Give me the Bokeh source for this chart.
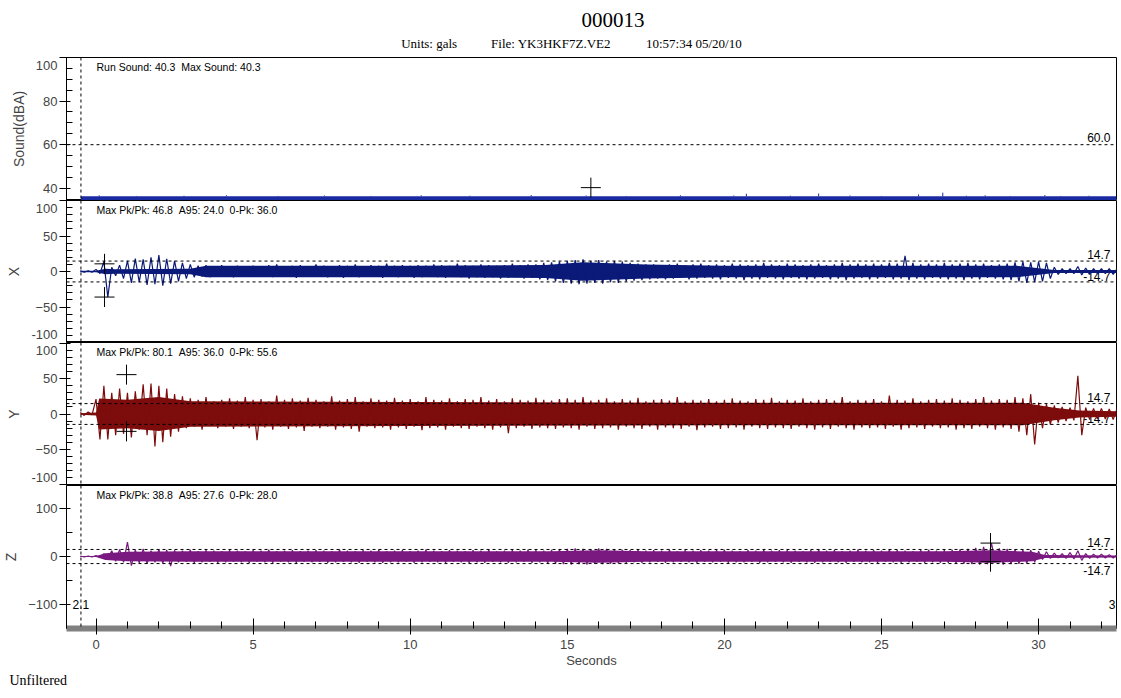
import numpy as np
from bokeh.plotting import figure
from bokeh.layouts import column
from bokeh.models import Span, FixedTicker, Range1d, SingleIntervalTicker, Title
from bokeh.core.properties import value
from bokeh.embed import file_html
from bokeh.resources import INLINE

# ---------------- data ----------------
title_text = "000013"
units_text = "Units: gals"
file_text = "File: YK3HKF7Z.VE2"
time_text = "10:57:34 05/20/10"
footer_text = "Unfiltered"

NB = " \u00a0"
sound_info = "Run Sound: 40.3" + NB + "Max Sound: 40.3"
x_info = "Max Pk/Pk: 46.8" + NB + "A95: 24.0" + NB + "0-Pk: 36.0"
y_info = "Max Pk/Pk: 80.1" + NB + "A95: 36.0" + NB + "0-Pk: 55.6"
z_info = "Max Pk/Pk: 38.8" + NB + "A95: 27.6" + NB + "0-Pk: 28.0"

t_view = (-0.94, 32.48)          # seconds shown
trigger_t = -0.48                # dashed trigger line
sound_limit = 60.0
accel_limit = 14.7

# envelope samples, every 0.25 s starting at -0.5 s (rows of 10 = 2.5 s)
t0, dt = -0.5, 0.25

x_hi = [1, 1, 3, 14, 6, 9, 15, 18, 17, 20,
        23, 18, 15, 12, 10, 8, 9, 7, 9, 7,
        8, 7, 8, 7, 9, 10, 7, 8, 9, 7,
        10, 8, 7, 9, 8, 10, 7, 9, 8, 11,
        8, 9, 8, 9, 8, 10, 9, 8, 11, 9,
        8, 10, 9, 8, 9, 11, 9, 10, 10, 12,
        13, 14, 15, 16, 17, 15, 16, 14, 15, 14,
        12, 11, 10, 10, 9, 10, 11, 9, 10, 11,
        9, 10, 9, 11, 10, 9, 10, 12, 10, 9,
        11, 10, 9, 10, 11, 9, 10, 12, 10, 11,
        10, 11, 10, 12, 11, 22, 12, 10, 11, 10,
        12, 10, 11, 12, 10, 11, 9, 10, 11, 13,
        14, 13, 14, 12, 6, 4, 4, 7, 5, 4,
        4, 4, 4]
x_lo = [-1, -1, -3, -36, -6, -10, -16, -15, -19, -18,
        -20, -17, -14, -10, -8, -7, -8, -6, -7, -8,
        -6, -7, -7, -6, -8, -7, -6, -9, -7, -6,
        -7, -8, -6, -9, -7, -8, -7, -6, -9, -7,
        -8, -7, -9, -8, -7, -8, -9, -7, -8, -10,
        -8, -9, -8, -10, -9, -8, -10, -9, -11, -12,
        -14, -16, -17, -18, -17, -16, -17, -15, -16, -14,
        -13, -12, -11, -10, -11, -10, -9, -11, -10, -9,
        -10, -11, -9, -10, -12, -10, -11, -9, -10, -11,
        -9, -10, -11, -10, -9, -11, -10, -12, -10, -9,
        -11, -10, -9, -11, -10, -12, -10, -11, -9, -10,
        -11, -10, -12, -10, -11, -9, -10, -11, -12, -14,
        -16, -15, -14, -10, -4, -3, -3, -5, -4, -3,
        -3, -4, -3]

y_hi = [2, 3, 21, 40, 30, 36, 30, 32, 42, 43,
        40, 36, 28, 25, 22, 20, 24, 18, 20, 22,
        19, 24, 20, 21, 18, 26, 20, 22, 19, 23,
        20, 18, 25, 19, 21, 24, 18, 22, 20, 19,
        23, 19, 21, 18, 24, 20, 19, 22, 18, 21,
        20, 24, 19, 21, 18, 22, 20, 19, 23, 20,
        19, 21, 22, 20, 24, 19, 20, 22, 18, 21,
        19, 23, 18, 20, 21, 19, 24, 18, 20, 19,
        21, 18, 20, 22, 19, 18, 21, 20, 23, 18,
        20, 19, 22, 18, 20, 21, 19, 24, 18, 20,
        19, 21, 18, 26, 20, 19, 22, 18, 20, 21,
        19, 22, 20, 18, 21, 24, 19, 21, 20, 24,
        22, 28, 16, 14, 12, 10, 9, 54, 9, 8,
        8, 7, 8]
y_lo = [-2, -1, -36, -36, -30, -28, -33, -22, -30, -46,
        -40, -32, -25, -20, -18, -22, -17, -20, -18, -21,
        -18, -20, -37, -19, -22, -18, -21, -19, -24, -18,
        -20, -18, -22, -19, -21, -25, -18, -20, -19, -22,
        -19, -21, -18, -23, -20, -19, -22, -18, -20, -21,
        -18, -20, -22, -19, -27, -20, -18, -21, -19, -20,
        -21, -19, -20, -22, -18, -21, -20, -19, -22, -18,
        -20, -21, -18, -22, -19, -20, -21, -18, -23, -19,
        -18, -21, -20, -19, -22, -18, -20, -21, -19, -20,
        -21, -18, -20, -22, -19, -21, -18, -20, -22, -19,
        -20, -19, -21, -18, -22, -20, -19, -21, -18, -20,
        -19, -22, -20, -21, -18, -20, -22, -19, -21, -25,
        -30, -43, -20, -15, -12, -10, -9, -30, -8, -7,
        -7, -8, -7]

z_hi = [1, 1, 2, 6, 12, 15, 30, 14, 16, 12,
        15, 14, 13, 12, 14, 11, 13, 12, 11, 13,
        12, 11, 13, 12, 14, 11, 12, 13, 11, 12,
        13, 12, 11, 14, 12, 11, 13, 12, 14, 11,
        12, 13, 11, 12, 14, 12, 11, 13, 12, 11,
        13, 12, 14, 11, 12, 13, 12, 14, 13, 12,
        14, 15, 16, 17, 16, 15, 17, 16, 15, 14,
        13, 14, 12, 13, 12, 14, 11, 13, 12, 13,
        12, 13, 14, 12, 11, 13, 12, 14, 12, 13,
        13, 12, 11, 13, 14, 12, 13, 11, 12, 14,
        12, 13, 12, 14, 13, 12, 11, 13, 14, 12,
        13, 14, 15, 16, 18, 20, 28, 17, 16, 15,
        14, 13, 11, 10, 7, 6, 8, 12, 6, 5,
        5, 4, 4]
z_lo = [-1, -1, -2, -4, -10, -12, -19, -13, -15, -12,
        -14, -20, -12, -11, -13, -12, -11, -13, -12, -11,
        -12, -13, -11, -12, -13, -11, -12, -13, -11, -12,
        -11, -13, -12, -11, -12, -13, -11, -12, -13, -12,
        -12, -11, -13, -12, -11, -12, -13, -11, -12, -13,
        -12, -13, -11, -12, -13, -12, -11, -13, -12, -14,
        -15, -16, -17, -16, -17, -15, -16, -15, -14, -13,
        -12, -13, -12, -11, -13, -12, -11, -12, -13, -11,
        -12, -11, -13, -12, -12, -11, -13, -12, -11, -12,
        -13, -11, -12, -13, -12, -11, -12, -13, -11, -12,
        -12, -13, -11, -12, -13, -12, -11, -13, -12, -13,
        -13, -14, -15, -16, -17, -16, -11, -17, -16, -15,
        -14, -12, -6, -4, -3, -4, -5, -8, -4, -3,
        -3, -3, -3]

# half-width of the solid central band: (time s, value) outline points
x_core_t = [-0.5, 0.0, 0.3, 0.6, 3.0, 3.5, 10.0, 14.3, 15.5, 17.5, 20.0, 25.0, 29.3, 30.5, 32.5]
x_core = [1, 1, 4, 3, 4, 8, 8, 9, 13, 10, 8, 8, 8, 2, 2]
y_core_t = [-0.5, 0.0, 0.1, 1.0, 2.0, 3.0, 10.0, 20.0, 27.0, 29.5, 30.5, 31.3, 32.5]
y_core = [1, 2, 22, 20, 24, 18, 17, 16, 16, 16, 9, 5, 4]
z_core_t = [-0.5, 0.0, 0.3, 1.0, 3.0, 14.5, 16.0, 17.5, 27.0, 28.5, 29.8, 30.2, 32.5]
z_core = [1, 1, 7, 10, 11, 11, 13, 11, 11, 13, 10, 3, 2]

# sound: steady band plus short spikes
sound_band = (34.5, 36.3)
sound_spike_t = [0.1, 1.3, 2.8, 4.15, 5.8, 7.27, 8.76, 10.35, 11.9, 13.85,
                 15.6, 16.87, 18.6, 20.3, 20.7, 22.1, 23.0, 24.0, 25.0, 26.18,
                 26.95, 27.7, 28.3, 29.1, 30.2, 30.7, 31.6]
sound_spike_db = [36.8, 36.5, 36.6, 36.8, 36.5, 36.7, 36.5, 36.8, 36.6, 36.9,
                  36.7, 36.5, 36.8, 36.7, 37.5, 36.6, 37.6, 36.7, 36.5, 37.2,
                  38.0, 36.6, 36.8, 36.5, 36.9, 36.5, 36.6]

# peak markers (time s, value)
sound_mark = ([15.75], [40.3])
x_mark = ([0.27, 0.27], [10.8, -36.0])
y_mark = ([0.97, 0.97], [55.6, -24.5])
z_mark = ([28.47, 28.47], [28.0, -10.8])

# ---------------- styling ----------------
W = 1121
LEFT, RIGHT = 65, 5
SANS = "Liberation Sans"
SERIF = "Liberation Serif"
C_SOUND = "#1a2aa0"
C_X = "#0b1a78"
C_Y = "#7d0c0c"
C_Z = "#7a1a80"

x_range = Range1d(*t_view)


def panel(height, yr, label, ticks, minor, overrides, bottom=0, xaxis=False):
    p = figure(width=W, height=height, x_range=x_range, y_range=Range1d(*yr),
               output_backend="svg", toolbar_location=None,
               min_border_left=LEFT, min_border_right=RIGHT,
               min_border_top=0, min_border_bottom=bottom,
               x_axis_location="below" if xaxis else None)
    p.grid.visible = False
    p.outline_line_color = "black"
    p.outline_line_width = 1
    p.background_fill_color = "white"
    p.border_fill_color = "white"
    ax = p.yaxis[0]
    ax.ticker = FixedTicker(ticks=ticks, minor_ticks=minor)
    ax.major_label_overrides = overrides
    ax.major_label_text_line_height = 0.05
    ax.axis_label = label
    ax.axis_label_text_font = SANS
    ax.axis_label_text_font_style = "normal"
    ax.axis_label_text_font_size = "14px"
    ax.axis_label_standoff = 6
    ax.major_label_text_font = SANS
    ax.major_label_text_font_size = "13px"
    ax.major_label_standoff = 2
    ax.major_tick_in = 4
    ax.major_tick_out = 7
    ax.minor_tick_in = 6
    ax.minor_tick_out = 0
    ax.axis_line_color = "black"
    p.add_layout(Span(location=trigger_t, dimension="height", line_color="black",
                      line_dash="3 3", line_width=1))
    return p


def info(p, txt, ytop):
    p.text(x=[t_view[0]], y=[ytop], text=[txt], x_offset=30, y_offset=3,
           text_font=value(SANS), text_font_size="10.5px", text_color="black",
           text_baseline="top", text_align="left")


def wave(p, hi, lo, core_t, core, color):
    n = len(hi)
    assert len(lo) == n and len(core_t) == len(core)
    t = [t0 + dt * i for i in range(n)]
    p.varea(x=core_t, y1=[-c for c in core], y2=core, fill_color=color)
    zx, zy = [], []
    for i in range(n):
        zx += [t[i], t[i] + dt / 2]
        zy += [hi[i], lo[i]]
    p.line(zx, zy, line_color=color, line_width=1.2)


def marks(p, m):
    p.scatter(x=m[0], y=m[1], marker="cross", size=20, line_color="black", line_width=1)


def limit_label(p, txt, yv, baseline, off):
    p.text(x=[t_view[1]], y=[yv], text=[txt], x_offset=-6, y_offset=off,
           text_font=value(SANS), text_font_size="12px", text_color="black",
           text_align="right", text_baseline=baseline)


# header (coordinates are canvas pixels)
head = figure(width=W, height=57, x_range=Range1d(LEFT, W - RIGHT), y_range=Range1d(57, 0),
              output_backend="svg", toolbar_location=None, min_border_left=LEFT,
              min_border_right=RIGHT, min_border_top=0, min_border_bottom=0,
              x_axis_location=None, y_axis_location=None)
head.grid.visible = False
head.outline_line_color = None
head.text(x=[612], y=[19], text=[title_text], text_font=value(SERIF), text_font_size="21px",
          text_align="center", text_baseline="middle", text_color="black")
head.text(x=[400, 490, 645], y=[43, 43, 43], text=[units_text, file_text, time_text],
          text_font=value(SERIF), text_font_size="13px", text_align="left",
          text_baseline="middle", text_color="black")

# sound panel
ps = panel(143, (34.4, 100), "Sound(dBA)", [40, 60, 80, 100],
           [35, 45, 50, 55, 65, 70, 75, 85, 90, 95], {100: "\n100"})
info(ps, sound_info, 100)
limit_label(ps, "60.0", sound_limit, "bottom", -3)
ps.varea(x=[trigger_t, t_view[1]], y1=[sound_band[0]] * 2, y2=[sound_band[1]] * 2, fill_color=C_SOUND)
ps.segment(x0=sound_spike_t, y0=[sound_band[1]] * len(sound_spike_t), x1=sound_spike_t,
           y1=sound_spike_db, line_color=C_SOUND, line_width=1)
ps.add_layout(Span(location=sound_limit, dimension="width", line_color="black", line_dash="3 3"))
marks(ps, sound_mark)

accel_minor = [-90, -80, -70, -60, -40, -30, -20, -10, 10, 20, 30, 40, 60, 70, 80, 90]


def accel_panel(height, yr, label, ticks, minor, overrides, txt, hi, lo, core_t, core, color, m,
                neg_baseline, neg_off, bottom=0, xaxis=False):
    p = panel(height, yr, label, ticks, minor, overrides, bottom=bottom, xaxis=xaxis)
    info(p, txt, yr[1])
    limit_label(p, "14.7", accel_limit, "bottom", -2)
    limit_label(p, "-14.7", -accel_limit, neg_baseline, neg_off)
    wave(p, hi, lo, core_t, core, color)
    for loc in (accel_limit, -accel_limit):
        p.add_layout(Span(location=loc, dimension="width", line_color="black", line_dash="3 3"))
    marks(p, m)
    return p


px = accel_panel(142, (-100, 100), "X", [-100, -50, 0, 50, 100], accel_minor,
                 {100: "\n100", -100: "-100\n"}, x_info, x_hi, x_lo, x_core_t, x_core, C_X,
                 x_mark, "bottom", -1)
py = accel_panel(143, (-101, 101), "Y", [-100, -50, 0, 50, 100], accel_minor,
                 {100: "\n100", -100: "-100\n"}, y_info, y_hi, y_lo, y_core_t, y_core, C_Y,
                 y_mark, "bottom", -1)
pz = accel_panel(213, (-150, 148), "Z", [-100, 0, 100], [-50, 50],
                 {}, z_info, z_hi, z_lo, z_core_t, z_core, C_Z, z_mark, "top", 2,
                 bottom=70, xaxis=True)
pz.text(x=[trigger_t], y=[-100], text=["2.1"], text_font=value(SANS), text_font_size="12px",
        text_align="center", text_baseline="middle", text_color="black")
pz.text(x=[t_view[1]], y=[-100], text=["3"], x_offset=-1, text_font=value(SANS),
        text_font_size="12px", text_align="right", text_baseline="middle", text_color="black")

xa = pz.xaxis[0]
xa.ticker = SingleIntervalTicker(interval=5, num_minor_ticks=5)
xa.axis_label = "Seconds"
xa.axis_label_text_font = SANS
xa.axis_label_text_font_style = "normal"
xa.axis_label_text_font_size = "13px"
xa.axis_label_standoff = 1
xa.major_label_text_font = SANS
xa.major_label_text_font_size = "13px"
xa.major_label_standoff = 5
xa.major_tick_in = 10
xa.major_tick_out = 6
xa.minor_tick_in = 7
xa.minor_tick_out = 0
xa.axis_line_color = "#808080"
xa.axis_line_width = 6

pz.add_layout(Title(text=footer_text, align="left", offset=-57, standoff=0,
                    text_font=SERIF, text_font_size="14px", text_font_style="normal",
                    text_color="black"), "below")

layout = column(head, ps, px, py, pz, spacing=0)
open("out.html", "w").write(file_html(layout, INLINE))
